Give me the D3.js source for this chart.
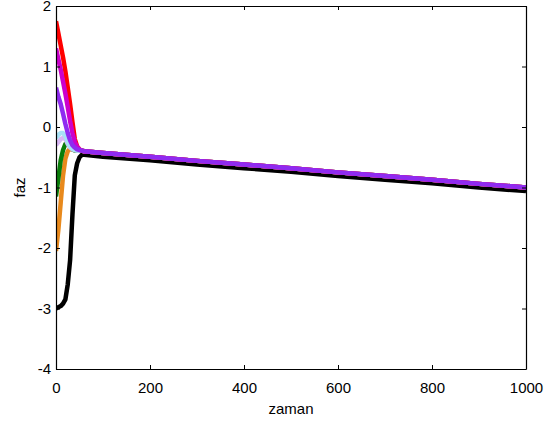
<!DOCTYPE html>
<html>
<head>
<meta charset="utf-8">
<script src="https://cdn.jsdelivr.net/npm/d3@7"></script>
<style>
  body { margin: 0; background: #fff; }
  svg { display: block; font-family: 'Liberation Sans', Arial, sans-serif; }
  .axis text { font-size: 15px; fill: #000; }
  .axis path, .axis line { stroke: #000; }
</style>
</head>
<body>
<svg id="chart" width="554" height="425"></svg>
<script>
// time points (zaman)
var zaman = [0, 5, 10, 15, 20, 25, 30, 35, 40, 45, 50, 55, 60,
  100, 200, 300, 400, 500, 600, 700, 800, 900, 1000];

// shared tail after the curves merge (t = 100..1000)
var tailColour = [-0.43, -0.49, -0.56, -0.62, -0.68, -0.75, -0.81, -0.87, -0.94, -1.00];
var tailBlack = [-0.49, -0.55, -0.62, -0.68, -0.74, -0.81, -0.87, -0.93, -1.00, -1.06];

// start of each curve (t = 0..60)
var fazBlack = [-3.0, -2.98, -2.96, -2.92, -2.85, -2.6, -2.2, -1.45, -0.8, -0.6, -0.5, -0.46, -0.46];
var fazOrange = [-2.05, -1.7, -1.25, -0.8, -0.52, -0.4, -0.36, -0.37, -0.38, -0.39, -0.39, -0.39, -0.4];
var fazGreen = [-1.15, -0.85, -0.55, -0.38, -0.28, -0.26, -0.32, -0.37, -0.39, -0.39, -0.39, -0.39, -0.4];
var fazLavender = [-0.3, -0.25, -0.2, -0.18, -0.2, -0.28, -0.34, -0.37, -0.38, -0.39, -0.39, -0.39, -0.4];
var fazLightBlue = [-0.18, -0.13, -0.1, -0.1, -0.15, -0.25, -0.32, -0.36, -0.38, -0.39, -0.39, -0.39, -0.4];
var fazRed = [1.75, 1.55, 1.35, 1.15, 0.92, 0.65, 0.38, 0.08, -0.2, -0.32, -0.37, -0.39, -0.4];
var fazMagenta = [1.3, 1.12, 0.95, 0.75, 0.55, 0.33, 0.1, -0.1, -0.25, -0.33, -0.37, -0.39, -0.4];
var fazPurple = [0.65, 0.5, 0.38, 0.22, 0.05, -0.1, -0.22, -0.3, -0.34, -0.37, -0.38, -0.39, -0.4];

var xTicks = [0, 200, 400, 600, 800, 1000];
var yTicks = [-4, -3, -2, -1, 0, 1, 2];

var series = [
  {color: '#000000', values: fazBlack.concat(tailBlack)},
  {color: '#e8891c', values: fazOrange.concat(tailColour)},
  {color: '#0a7d0a', values: fazGreen.concat(tailColour)},
  {color: '#d9b8f5', values: fazLavender.concat(tailColour)},
  {color: '#a8e2f6', values: fazLightBlue.concat(tailColour)},
  {color: '#ff0000', values: fazRed.concat(tailColour)},
  {color: '#cc00cc', values: fazMagenta.concat(tailColour)},
  {color: '#8f2bf0', values: fazPurple.concat(tailColour)}
];

var margin = {top: 6, right: 28, bottom: 56, left: 56};
var width = 526 - margin.left;
var height = 369 - margin.top;

var svg = d3.select('#chart');
var g = svg.append('g')
  .attr('transform', 'translate(' + margin.left + ',' + margin.top + ')');

var x = d3.scaleLinear().domain([0, 1000]).range([0, width]);
var y = d3.scaleLinear().domain([-4, 2]).range([height, 0]);

g.append('clipPath').attr('id', 'clip')
  .append('rect').attr('width', width).attr('height', height);

var line = d3.line()
  .x(function(d, i) { return x(zaman[i]); })
  .y(function(d) { return y(d); });

g.append('g').attr('clip-path', 'url(#clip)')
  .selectAll('path')
  .data(series)
  .enter()
  .append('path')
  .attr('d', function(d) { return line(d.values); })
  .attr('fill', 'none')
  .attr('stroke', function(d) { return d.color; })
  .attr('stroke-width', 4.5)
  .attr('stroke-linejoin', 'round');

// plain hyphen minus, no thousands comma
var fmt = function(d) { return String(d); };

// axes, ticks pointing inward (matlab style)
g.append('g').attr('class', 'axis')
  .attr('transform', 'translate(0,' + height + ')')
  .call(d3.axisBottom(x).tickValues(xTicks).tickFormat(fmt).tickSizeInner(-4).tickSizeOuter(0).tickPadding(13));
g.append('g').attr('class', 'axis')
  .call(d3.axisLeft(y).tickValues(yTicks).tickFormat(fmt).tickSizeInner(-4).tickSizeOuter(0).tickPadding(5));
g.append('g').attr('class', 'axis')
  .call(d3.axisTop(x).tickValues(xTicks).tickSizeInner(-4).tickSizeOuter(0).tickFormat(''));
g.append('g').attr('class', 'axis')
  .attr('transform', 'translate(' + width + ',0)')
  .call(d3.axisRight(y).tickValues(yTicks).tickSizeInner(-4).tickSizeOuter(0).tickFormat(''));

g.selectAll('.axis .domain').attr('stroke-width', 1.2);

svg.append('text')
  .attr('x', margin.left + width / 2)
  .attr('y', 414)
  .attr('text-anchor', 'middle')
  .style('font-size', '15px')
  .text('zaman');

svg.append('text')
  .attr('transform', 'translate(25,' + (margin.top + height / 2) + ') rotate(-90)')
  .attr('text-anchor', 'middle')
  .style('font-size', '15px')
  .text('faz');
</script>
</body>
</html>
